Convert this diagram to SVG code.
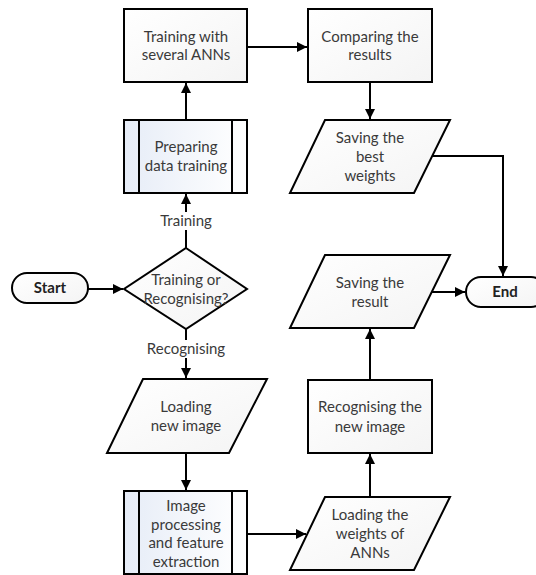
<svg xmlns="http://www.w3.org/2000/svg" width="536" height="575" viewBox="0 0 536 575">
<defs>
<linearGradient id="gw" x1="0" y1="0" x2="1" y2="1"><stop offset="0" stop-color="#ffffff"/><stop offset="1" stop-color="#f4f4f4"/></linearGradient>
<linearGradient id="gb" x1="0" y1="0" x2="1" y2="0"><stop offset="0" stop-color="#e6ecf7"/><stop offset="0.5" stop-color="#f3f6fb"/><stop offset="1" stop-color="#ffffff"/></linearGradient>
<marker id="ah" viewBox="0 0 10 10" refX="10" refY="5" markerWidth="5" markerHeight="5" orient="auto" markerUnits="strokeWidth"><path d="M0,0 L10,5 L0,10 z" fill="#000"/></marker>
</defs>
<style>
.s{stroke:#000;stroke-width:2;fill:url(#gw)}
.p{stroke:#000;stroke-width:2;fill:url(#gb)}
.c{stroke:#000;stroke-width:2;fill:none}
text{font-family:Lato,"Liberation Sans",sans-serif;font-size:15px;fill:#3a3a3a;text-anchor:middle}
.b{font-weight:bold;fill:#222}
.lbl{fill:#fff;stroke:none}
</style>
<g id="connectors">
<line class="c" x1="186" y1="120" x2="186" y2="83" marker-end="url(#ah)"/>
<line class="c" x1="247" y1="47" x2="307" y2="47" marker-end="url(#ah)"/>
<line class="c" x1="370" y1="82" x2="370" y2="119" marker-end="url(#ah)"/>
<polyline class="c" points="432,156 503,156 503,276" marker-end="url(#ah)"/>
<line class="c" x1="186" y1="248" x2="186" y2="194" marker-end="url(#ah)"/>
<line class="c" x1="88" y1="289" x2="123" y2="289" marker-end="url(#ah)"/>
<line class="c" x1="186" y1="329" x2="186" y2="378" marker-end="url(#ah)"/>
<line class="c" x1="186" y1="453" x2="186" y2="490" marker-end="url(#ah)"/>
<line class="c" x1="247" y1="534" x2="306" y2="534" marker-end="url(#ah)"/>
<line class="c" x1="370" y1="497" x2="370" y2="454" marker-end="url(#ah)"/>
<line class="c" x1="370" y1="380" x2="370" y2="329" marker-end="url(#ah)"/>
<line class="c" x1="432" y1="292" x2="465" y2="292" marker-end="url(#ah)"/>
<rect class="lbl" x="155" y="212" width="62" height="18"/>
<text x="186" y="226">Training</text>
<rect class="lbl" x="145" y="340" width="82" height="18"/>
<text x="186" y="354">Recognising</text>
</g>
<g id="train">
<rect class="s" x="124" y="9" width="123" height="73"/>
<text x="186" y="42">Training with</text>
<text x="186" y="60">several ANNs</text>
</g>
<g id="compare">
<rect class="s" x="308" y="9" width="124" height="73"/>
<text x="370" y="42">Comparing the</text>
<text x="370" y="60">results</text>
</g>
<g id="prep">
<rect class="p" x="124" y="120" width="123" height="73"/>
<line class="c" x1="139" y1="120" x2="139" y2="193"/>
<line class="c" x1="232" y1="120" x2="232" y2="193"/>
<text x="186" y="152">Preparing</text>
<text x="186" y="171">data training</text>
</g>
<g id="savebest">
<polygon class="s" points="325,120 450,120 414,193 290,193"/>
<text x="370" y="143">Saving the</text>
<text x="370" y="162">best</text>
<text x="370" y="181">weights</text>
</g>
<g id="start">
<rect class="s" x="12" y="273" width="76" height="30" rx="15"/>
<text class="b" x="50" y="293">Start</text>
</g>
<g id="decision">
<polygon class="s" points="186,248 247,289 186,329 124,289"/>
<text x="186" y="285">Training or</text>
<text x="186" y="304">Recognising?</text>
</g>
<g id="saveresult">
<polygon class="s" points="325,255 450,255 414,328 290,328"/>
<text x="370" y="288">Saving the</text>
<text x="370" y="307">result</text>
</g>
<g id="end">
<rect class="s" x="466" y="277" width="80" height="30" rx="15"/>
<text class="b" x="505" y="297">End</text>
</g>
<g id="loadimg">
<polygon class="s" points="143,379 267,379 229,453 107,453"/>
<text x="186" y="412">Loading</text>
<text x="186" y="431">new image</text>
</g>
<g id="recog">
<rect class="s" x="308" y="380" width="124" height="73"/>
<text x="370" y="412">Recognising the</text>
<text x="370" y="432">new image</text>
</g>
<g id="improc">
<rect class="p" x="124" y="491" width="123" height="83"/>
<line class="c" x1="139" y1="491" x2="139" y2="574"/>
<line class="c" x1="232" y1="491" x2="232" y2="574"/>
<text x="186" y="511">Image</text>
<text x="186" y="530">processing</text>
<text x="186" y="548">and feature</text>
<text x="186" y="567">extraction</text>
</g>
<g id="loadweights">
<polygon class="s" points="325,497 450,497 414,570 290,570"/>
<text x="370" y="520">Loading the</text>
<text x="370" y="539">weights of</text>
<text x="370" y="558">ANNs</text>
</g>
</svg>
